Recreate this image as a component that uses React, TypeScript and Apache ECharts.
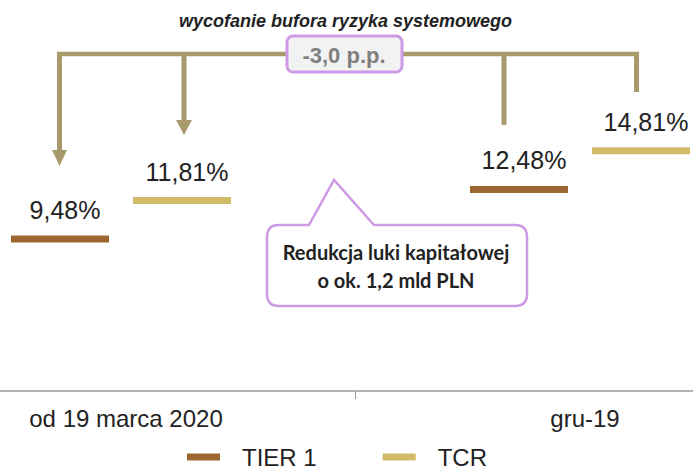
import React, { useEffect, useRef } from "react";
import * as echarts from "echarts";

const categories = ["od 19 marca 2020", "gru-19"];
const tier1Values = [9.48, 12.48];
const tcrValues = [11.81, 14.81];
const seriesNames = ["TIER 1", "TCR"];
const titleText = "wycofanie bufora ryzyka systemowego";
const changeText = "-3,0 p.p.";
const calloutLines = ["Redukcja luki kapitałowej", "o ok. 1,2 mld PLN"];

const BROWN = "#9C6632";
const GOLD = "#D2BB68";
const KHAKI = "#A99A6B";
const LILAC = "#CE9AE6";
const TEXT = "#222222";
const FONT = "'Liberation Sans', Arial, Helvetica, sans-serif";

const bubblePath =
  "M279 225 L309 225 L334 180 L374 225 L515 225 Q527 225 527 237 L527 294 Q527 306 515 306 L279 306 Q267 306 267 294 L267 237 Q267 225 279 225 Z";
echarts.graphic.registerShape("bubble", echarts.graphic.extendPath(bubblePath, {}));

const fmt = (p: any) => String(p.value).replace(".", ",") + "%";

export default function App() {
  const ref = useRef<HTMLDivElement>(null);
  useEffect(() => {
    if (!ref.current) return;
    const chart = echarts.init(ref.current, undefined, { renderer: "svg" });
    const labelStyle = {
      show: true,
      position: "top",
      distance: 13,
      offset: [5, 0],
      fontSize: 25,
      fontFamily: FONT,
      color: TEXT,
      formatter: fmt,
    };
    chart.setOption({
      animation: false,
      backgroundColor: "#ffffff",
      grid: {
        left: -103.5,
        width: 918,
        top: 60,
        bottom: 79,
        containLabel: false,
        outerBoundsMode: "none",
      },
      xAxis: {
        type: "category",
        data: categories,
        axisLine: { show: true, lineStyle: { color: "#9a9a9a", width: 1.5 } },
        axisTick: { show: true, length: 8, lineStyle: { color: "#9a9a9a", width: 1 } },
        axisLabel: { fontSize: 24, fontFamily: FONT, color: TEXT, margin: 15 },
        splitLine: { show: false },
      },
      yAxis: {
        type: "value",
        min: 0.3,
        max: 20.3,
        show: false,
        splitLine: { show: false },
      },
      legend: {
        data: seriesNames,
        left: 182,
        top: 440,
        icon: "rect",
        itemWidth: 33,
        itemHeight: 7,
        itemGap: 66,
        textStyle: { fontSize: 24, fontFamily: FONT, color: TEXT, padding: [0, 0, 0, 17] },
      },
      series: [
        {
          name: seriesNames[0],
          type: "scatter",
          data: tier1Values,
          symbol: "rect",
          symbolSize: [98, 7],
          symbolOffset: [-66, 0],
          itemStyle: { color: BROWN, opacity: 1 },
          label: labelStyle,
        },
        {
          name: seriesNames[1],
          type: "scatter",
          data: tcrValues,
          symbol: "rect",
          symbolSize: [98, 7],
          symbolOffset: [56, 0],
          itemStyle: { color: GOLD, opacity: 1 },
          label: labelStyle,
        },
      ],
      graphic: [
        {
          type: "text",
          x: 345.5,
          y: 21,
          style: {
            text: titleText,
            textAlign: "center",
            textVerticalAlign: "middle",
            fontFamily: FONT,
            fontWeight: "bold",
            fontStyle: "italic",
            fontSize: 18,
            fill: TEXT,
          },
        },
        { type: "line", shape: { x1: 57, y1: 54, x2: 639, y2: 54 }, style: { stroke: KHAKI, lineWidth: 4.5 } },
        { type: "line", shape: { x1: 59.5, y1: 52, x2: 59.5, y2: 151 }, style: { stroke: KHAKI, lineWidth: 5 } },
        { type: "polygon", shape: { points: [[52, 150], [67, 150], [59.5, 166]] }, style: { fill: KHAKI } },
        { type: "line", shape: { x1: 184, y1: 52, x2: 184, y2: 121 }, style: { stroke: KHAKI, lineWidth: 5 } },
        { type: "polygon", shape: { points: [[176, 120], [192, 120], [184, 135]] }, style: { fill: KHAKI } },
        { type: "line", shape: { x1: 504, y1: 52, x2: 504, y2: 125 }, style: { stroke: KHAKI, lineWidth: 5 } },
        { type: "line", shape: { x1: 636.5, y1: 52, x2: 636.5, y2: 92 }, style: { stroke: KHAKI, lineWidth: 5 } },
        {
          type: "rect",
          shape: { x: 287, y: 36, width: 115, height: 36, r: 6 },
          style: { fill: "#F2F2F2", stroke: LILAC, lineWidth: 3 },
        },
        {
          type: "text",
          x: 344,
          y: 55,
          style: {
            text: changeText,
            textAlign: "center",
            textVerticalAlign: "middle",
            fontFamily: FONT,
            fontWeight: "bold",
            fontSize: 22,
            fill: "#7F7F7F",
          },
        },
        {
          type: "bubble",
          x: 0,
          y: 0,
          style: { fill: "#ffffff", stroke: LILAC, lineWidth: 2.5 },
        },
        {
          type: "text",
          x: 396,
          y: 266,
          style: {
            text: calloutLines.join("\n"),
            textAlign: "center",
            textVerticalAlign: "middle",
            fontFamily: "Lato, 'Open Sans', sans-serif",
            fontWeight: "bold",
            fontSize: 20,
            lineHeight: 28,
            fill: TEXT,
          },
        },
      ],
    });
    return () => chart.dispose();
  }, []);
  return (
    <div
      ref={ref}
      style={{ position: "absolute", left: 0, top: 0, width: 693, height: 470, background: "#fff" }}
    />
  );
}
